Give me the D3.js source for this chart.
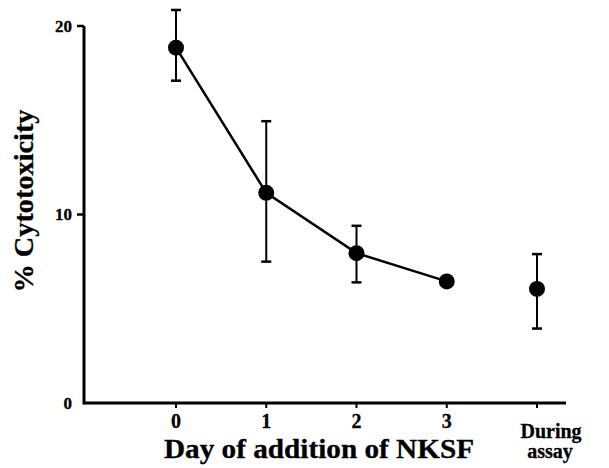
<!DOCTYPE html>
<html>
<head>
<meta charset="utf-8">
<script src="https://cdn.jsdelivr.net/npm/d3@7"></script>
<style>
  body { margin: 0; background: #fff; }
  text { font-family: "Liberation Serif", "Times New Roman", serif; font-weight: bold; fill: #000; stroke: #000; stroke-width: 0.3; }
</style>
</head>
<body>
<div id="chart"></div>
<script>
var days = ["0", "1", "2", "3", "During assay"];
var cytotoxicity = [18.85, 11.15, 7.95, 6.45, 6.05];
var errHigh = [20.85, 14.95, 9.4, null, 7.9];
var errLow = [17.1, 7.5, 6.4, null, 3.95];
var joined = [true, true, true, true, false];   // line runs through days 0-3 only
var yTicks = [0, 10, 20];

function chart() {
	var width = 609,
	    height = 468;

	var svg = d3.select("#chart").append("svg")
	    .attr("width", width)
	    .attr("height", height);

	var x = d3.scalePoint()
	    .domain(days)
	    .range([176, 537]);

	var y = d3.scaleLinear()
	    .domain([0, 20])
	    .range([403, 26]);

	var pts = days.map(function(d, i) {
		return {day: d, v: cytotoxicity[i], hi: errHigh[i], lo: errLow[i], joined: joined[i]};
	});

	/* axes */
	svg.append("line")
		.attr("x1", 84).attr("x2", 84)
		.attr("y1", y(20)).attr("y2", y(0) + 1.5)
		.attr("stroke", "#000").attr("stroke-width", 3);

	svg.append("line")
		.attr("x1", 84).attr("x2", 566)
		.attr("y1", y(0)).attr("y2", y(0))
		.attr("stroke", "#000").attr("stroke-width", 3);

	// y ticks (none at 0, the x axis starts there)
	svg.selectAll(".ytick")
		.data(yTicks.filter(function(t) { return t > 0; }))
		.enter().append("line")
		.attr("x1", 77).attr("x2", 84)
		.attr("y1", function(d) { return y(d); })
		.attr("y2", function(d) { return y(d); })
		.attr("stroke", "#000").attr("stroke-width", 2.5);

	svg.selectAll(".ylab")
		.data(yTicks)
		.enter().append("text")
		.attr("x", 72)
		.attr("y", function(d) { return y(d) + 5.5; })
		.attr("text-anchor", "end")
		.style("font-size", "17px")
		.text(function(d) { return d; });

	// x ticks
	svg.selectAll(".xtick")
		.data(days)
		.enter().append("line")
		.attr("x1", function(d) { return x(d); })
		.attr("x2", function(d) { return x(d); })
		.attr("y1", y(0)).attr("y2", y(0) + 5)
		.attr("stroke", "#000").attr("stroke-width", 2);

	svg.selectAll(".xlab")
		.data(days.slice(0, 4))
		.enter().append("text")
		.attr("x", function(d) { return x(d); })
		.attr("y", 428)
		.attr("text-anchor", "middle")
		.style("font-size", "20px")
		.text(function(d) { return d; });

	// last category label sits on two lines
	var last = days[days.length - 1];
	var lastLab = svg.append("text")
		.attr("y", 438)
		.attr("text-anchor", "middle")
		.style("font-size", "20px");
	lastLab.append("tspan")
		.attr("x", x(last) + 14)
		.text(last.split(" ")[0]);
	lastLab.append("tspan")
		.attr("x", x(last) + 13)
		.attr("dy", 20)
		.text(last.split(" ")[1]);

	/* titles */
	svg.append("text")
		.attr("x", 319)
		.attr("y", 458)
		.attr("text-anchor", "middle")
		.attr("textLength", 310)
		.attr("lengthAdjust", "spacingAndGlyphs")
		.style("font-size", "27px")
		.text("Day of addition of NKSF");

	svg.append("text")
		.attr("transform", "translate(33,201) rotate(-90)")
		.attr("text-anchor", "middle")
		.attr("textLength", 183)
		.attr("lengthAdjust", "spacingAndGlyphs")
		.style("font-size", "27px")
		.text("% Cytotoxicity");

	/* data */
	var line = d3.line()
		.x(function(d) { return x(d.day); })
		.y(function(d) { return y(d.v); });

	svg.append("path")
		.datum(pts.filter(function(d) { return d.joined; }))
		.attr("d", line)
		.attr("fill", "none")
		.attr("stroke", "#000")
		.attr("stroke-width", 2.5);

	var bars = pts.filter(function(d) { return d.hi != null; });

	svg.selectAll(".err")
		.data(bars)
		.enter().append("line")
		.attr("x1", function(d) { return x(d.day); })
		.attr("x2", function(d) { return x(d.day); })
		.attr("y1", function(d) { return y(d.hi); })
		.attr("y2", function(d) { return y(d.lo); })
		.attr("stroke", "#000").attr("stroke-width", 2);

	["hi", "lo"].forEach(function(k) {
		svg.selectAll(".cap-" + k)
			.data(bars)
			.enter().append("line")
			.attr("x1", function(d) { return x(d.day) - 5; })
			.attr("x2", function(d) { return x(d.day) + 5; })
			.attr("y1", function(d) { return y(d[k]); })
			.attr("y2", function(d) { return y(d[k]); })
			.attr("stroke", "#000").attr("stroke-width", 2.5);
	});

	svg.selectAll(".dot")
		.data(pts)
		.enter().append("circle")
		.attr("cx", function(d) { return x(d.day); })
		.attr("cy", function(d) { return y(d.v); })
		.attr("r", 8)
		.attr("fill", "#000");
}
chart();
</script>
</body>
</html>
